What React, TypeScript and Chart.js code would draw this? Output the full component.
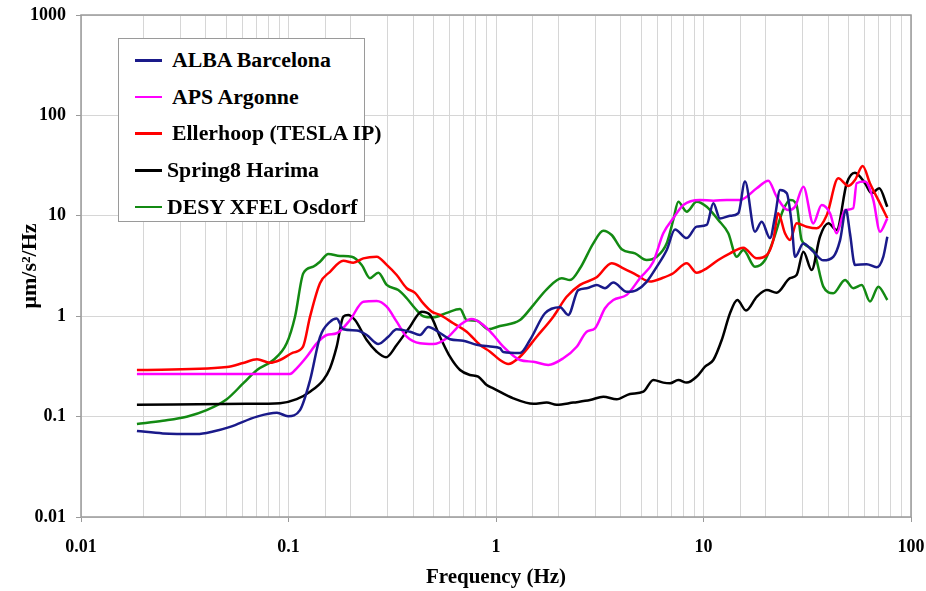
import React, { useEffect, useRef } from 'react';
import { Chart, registerables } from 'chart.js';

Chart.register(...registerables);

// ---------- data ----------
const seriesNames = ['ALBA Barcelona', 'APS Argonne', 'Ellerhoop (TESLA IP)', 'Spring8 Harima', 'DESY XFEL Osdorf'];
const seriesColors = ['#1a1a8a', '#ff00ff', '#ff0000', '#000000', '#138a13'];

const xTickLabels = ['0.01', '0.1', '1', '10', '100'];
const yTickLabels = ['0.01', '0.1', '1', '10', '100', '1000'];

const albaFreq = [0.0186, 0.0248, 0.0362, 0.0433, 0.0523, 0.0705, 0.088, 0.0995, 0.1136, 0.127, 0.1418, 0.1585, 0.1707, 0.1837, 0.2132, 0.2382, 0.271, 0.3027, 0.3322, 0.385, 0.43, 0.4717, 0.537, 0.6, 0.696, 0.807, 0.936, 1.045, 1.084, 1.305, 1.458, 1.722, 2.034, 2.23, 2.49, 2.735, 3.057, 3.352, 3.675, 4.265, 4.764, 5.32, 5.95, 6.65, 7.29, 8.3, 9.27, 10.36, 11.15, 12.0, 13.42, 14.72, 15.85, 17.7, 19.08, 20.92, 22.1, 23.4, 25.2, 26.6, 27.6, 30.3, 33.8, 37.8, 42.2, 45.5, 48.6, 50.8, 53.7, 61.2, 68.3, 73.5, 76.9];
const albaPsd = [0.072, 0.068, 0.067, 0.071, 0.079, 0.1, 0.109, 0.101, 0.116, 0.23, 0.62, 0.88, 0.95, 0.74, 0.72, 0.65, 0.53, 0.625, 0.74, 0.70, 0.65, 0.78, 0.68, 0.59, 0.57, 0.52, 0.5, 0.48, 0.44, 0.43, 0.58, 1.07, 1.23, 1.03, 1.82, 1.9, 2.05, 1.9, 2.16, 1.75, 1.82, 2.2, 3.1, 4.56, 7.3, 6.0, 7.8, 8.1, 13.3, 9.4, 10.0, 10.6, 21.9, 6.95, 8.7, 6.0, 9.8, 18.1, 16.8, 8.4, 3.9, 5.3, 4.4, 3.6, 3.9, 5.7, 11.4, 6.7, 3.24, 3.3, 3.07, 3.9, 6.2];

const apsFreq = [0.0186, 0.1017, 0.1095, 0.1224, 0.1368, 0.1528, 0.1707, 0.1979, 0.2294, 0.2661, 0.2974, 0.3322, 0.3713, 0.43, 0.4986, 0.5786, 0.671, 0.764, 0.869, 0.971, 1.084, 1.305, 1.513, 1.787, 2.11, 2.449, 2.735, 3.0, 3.352, 3.675, 4.265, 4.94, 5.73, 6.4, 7.15, 7.99, 9.62, 11.15, 12.94, 15.0, 18.05, 20.53, 22.5, 25.6, 27.6, 30.3, 33.8, 37.1, 40.7, 43.8, 48.1, 52.7, 54.7, 60.0, 65.8, 70.9, 76.9];
const apsPsd = [0.266, 0.266, 0.303, 0.395, 0.537, 0.65, 0.676, 0.916, 1.395, 1.417, 1.243, 0.882, 0.625, 0.537, 0.528, 0.603, 0.817, 0.938, 0.817, 0.65, 0.497, 0.366, 0.352, 0.327, 0.381, 0.497, 0.701, 0.758, 1.2, 1.45, 1.63, 2.39, 3.49, 6.69, 9.44, 12.8, 14.4, 14.1, 14.4, 14.4, 18.8, 22.4, 15.5, 11.4, 12.3, 19.5, 8.4, 12.8, 10.6, 6.7, 11.4, 11.9, 21.1, 21.9, 14.4, 6.95, 9.44];

const ellerFreq = [0.0186, 0.0505, 0.0604, 0.0705, 0.0815, 0.091, 0.1051, 0.1175, 0.127, 0.1418, 0.1585, 0.1837, 0.2053, 0.2294, 0.2661, 0.2974, 0.3322, 0.3713, 0.407, 0.4463, 0.49, 0.537, 0.6226, 0.7225, 0.8375, 0.936, 1.045, 1.146, 1.305, 1.571, 1.889, 2.19, 2.54, 3.057, 3.61, 4.11, 4.764, 5.52, 6.29, 7.15, 8.3, 9.27, 10.36, 11.78, 13.42, 15.55, 18.05, 20.2, 21.7, 22.9, 24.7, 26.1, 28.1, 31.4, 35.1, 39.3, 44.6, 49.9, 53.7, 58.5, 63.4, 70.9, 76.9];
const ellerPsd = [0.291, 0.312, 0.342, 0.372, 0.344, 0.366, 0.433, 0.497, 0.989, 2.13, 2.77, 3.57, 3.41, 3.77, 3.91, 3.24, 2.57, 1.9, 1.71, 1.34, 1.11, 1.03, 0.85, 0.70, 0.517, 0.443, 0.366, 0.334, 0.395, 0.625, 0.989, 1.56, 2.05, 2.44, 3.37, 3.0, 2.57, 2.21, 2.39, 2.68, 3.37, 2.71, 3.0, 3.63, 4.23, 4.81, 3.77, 4.07, 5.74, 10.6, 6.69, 5.74, 8.42, 7.79, 7.51, 10.2, 23.6, 19.8, 22.7, 31.3, 21.1, 13.3, 9.44];

const springFreq = [0.0186, 0.0631, 0.091, 0.1095, 0.127, 0.1471, 0.1585, 0.1707, 0.1837, 0.194, 0.2092, 0.2382, 0.2661, 0.2951, 0.3322, 0.385, 0.4385, 0.481, 0.537, 0.6, 0.671, 0.749, 0.821, 0.902, 0.971, 1.212, 1.513, 1.755, 1.961, 2.358, 2.838, 3.29, 3.817, 4.42, 5.13, 5.73, 6.4, 6.9, 7.56, 8.3, 9.27, 10.17, 11.15, 12.24, 13.42, 14.55, 16.03, 18.05, 20.2, 22.5, 26.1, 28.1, 30.3, 33.2, 36.4, 40.0, 43.8, 49.0, 53.7, 60.0, 64.6, 70.3, 76.9];
const springPsd = [0.131, 0.134, 0.136, 0.149, 0.177, 0.232, 0.303, 0.497, 0.989, 1.03, 0.916, 0.579, 0.443, 0.39, 0.517, 0.786, 1.11, 1.03, 0.625, 0.395, 0.291, 0.26, 0.25, 0.206, 0.191, 0.152, 0.134, 0.138, 0.131, 0.138, 0.146, 0.158, 0.149, 0.168, 0.177, 0.232, 0.218, 0.215, 0.232, 0.218, 0.25, 0.314, 0.366, 0.579, 1.07, 1.45, 1.14, 1.56, 1.82, 1.71, 2.39, 2.57, 4.39, 2.89, 6.19, 8.42, 7.22, 21.1, 26.9, 21.1, 16.8, 18.8, 12.3];

const desyFreq = [0.0186, 0.0248, 0.0323, 0.0403, 0.0504, 0.0606, 0.0705, 0.0845, 0.098, 0.1075, 0.1179, 0.1317, 0.1418, 0.1555, 0.177, 0.2017, 0.2253, 0.247, 0.271, 0.2974, 0.3382, 0.3713, 0.407, 0.4463, 0.4986, 0.5786, 0.671, 0.7225, 0.807, 0.918, 1.045, 1.305, 1.513, 1.755, 2.073, 2.273, 2.54, 2.944, 3.29, 3.61, 4.035, 4.677, 5.32, 5.95, 6.65, 7.15, 7.56, 8.3, 9.27, 10.36, 11.78, 13.17, 14.45, 15.55, 17.7, 19.8, 21.7, 24.2, 26.1, 28.1, 29.7, 33.8, 37.8, 42.2, 48.1, 52.7, 57.9, 63.4, 69.6, 76.9];
const desyPsd = [0.0844, 0.091, 0.0998, 0.116, 0.149, 0.215, 0.291, 0.366, 0.537, 0.989, 2.68, 3.11, 3.49, 4.17, 3.98, 3.91, 3.24, 2.39, 2.71, 2.05, 1.82, 1.51, 1.2, 1.0, 0.975, 1.08, 1.18, 0.916, 0.902, 0.741, 0.799, 0.916, 1.29, 1.85, 2.39, 2.29, 3.0, 5.32, 7.11, 6.44, 4.64, 4.23, 3.63, 3.91, 5.32, 9.08, 13.8, 11.0, 13.8, 12.3, 9.08, 6.69, 3.91, 4.56, 3.11, 3.63, 5.74, 11.4, 14.4, 12.8, 5.74, 4.56, 1.97, 1.69, 2.29, 1.9, 2.05, 1.4, 1.97, 1.45];

const seriesFreqs = [albaFreq, apsFreq, ellerFreq, springFreq, desyFreq];
const seriesPsds = [albaPsd, apsPsd, ellerPsd, springPsd, desyPsd];

// ---------- chart ----------
const FONT = "'Liberation Serif', 'Times New Roman', Times, serif";

const isDecade = (v: number) => {
  const l = Math.log10(v);
  return Math.abs(l - Math.round(l)) < 1e-6;
};

const framePlugin = {
  id: 'frame',
  beforeDatasetsDraw(chart: any) {
    const { ctx, chartArea } = chart;
    ctx.save();
    ctx.strokeStyle = '#9a9a9a';
    ctx.lineWidth = 1.5;
    ctx.strokeRect(chartArea.left, chartArea.top, chartArea.right - chartArea.left, chartArea.bottom - chartArea.top);
    ctx.restore();
  },
};

export default function App() {
  const canvasRef = useRef<HTMLCanvasElement>(null);

  useEffect(() => {
    const canvas = canvasRef.current;
    if (!canvas) return;
    const chart = new Chart(canvas, {
      type: 'line',
      data: {
        datasets: seriesNames.map((name, si) => ({
          label: name,
          data: seriesFreqs[si].map((f, i) => ({ x: f, y: seriesPsds[si][i] })),
          borderColor: seriesColors[si],
          backgroundColor: seriesColors[si],
          borderWidth: 2.5,
          pointRadius: 0,
          fill: false,
          cubicInterpolationMode: 'monotone' as const,
        })),
      },
      options: {
        responsive: false,
        animation: false,
        layout: { padding: { top: 15, right: 15, left: 0, bottom: 0 } },
        plugins: { legend: { display: false }, tooltip: { enabled: false } },
        scales: {
          x: {
            type: 'logarithmic',
            min: 0.01,
            max: 100,
            afterFit: (s: any) => {
              s.height = 74;
              s.paddingLeft = 0;
              s.paddingRight = 0;
            },
            border: { display: false },
            grid: {
              color: '#d6d6d6',
              lineWidth: 1,
              tickLength: 5,
              tickColor: (c: any) => (c.tick && isDecade(c.tick.value) ? '#9a9a9a' : 'rgba(0,0,0,0)'),
            },
            ticks: {
              autoSkip: false,
              maxRotation: 0,
              padding: 15,
              color: '#000',
              font: { family: FONT, size: 18, weight: 'bold' },
              callback: (v: any) => (isDecade(Number(v)) ? xTickLabels[Math.round(Math.log10(Number(v))) + 2] : ''),
            },
            title: {
              display: true,
              text: 'Frequency (Hz)',
              color: '#000',
              font: { family: FONT, size: 21, weight: 'bold' },
              padding: 1,
            },
          },
          y: {
            type: 'logarithmic',
            min: 0.01,
            max: 1000,
            afterFit: (s: any) => {
              s.width = 81;
              s.paddingTop = 0;
              s.paddingBottom = 0;
            },
            border: { display: false },
            grid: {
              color: (c: any) => (c.tick && isDecade(c.tick.value) ? '#d6d6d6' : 'rgba(0,0,0,0)'),
              lineWidth: 1,
              tickLength: 5,
              tickColor: (c: any) => (c.tick && isDecade(c.tick.value) ? '#9a9a9a' : 'rgba(0,0,0,0)'),
            },
            ticks: {
              autoSkip: false,
              padding: 10,
              color: '#000',
              font: { family: FONT, size: 18, weight: 'bold' },
              callback: (v: any) => (isDecade(Number(v)) ? yTickLabels[Math.round(Math.log10(Number(v))) + 2] : ''),
            },
            title: {
              display: true,
              text: 'μm/s²/Hz',
              color: '#000',
              font: { family: FONT, size: 22, weight: 'bold' },
              padding: 17,
            },
          },
        },
      } as any,
      plugins: [framePlugin],
    });
    return () => chart.destroy();
  }, []);

  return (
    <div style={{ position: 'fixed', left: 0, top: 0, width: 926, height: 591, background: '#fff' }}>
      <canvas ref={canvasRef} width={926} height={591} style={{ display: 'block', width: 926, height: 591 }} />
      <div
        style={{
          position: 'absolute',
          left: 118,
          top: 38,
          width: 247,
          height: 184,
          boxSizing: 'border-box',
          border: '1.5px solid #9a9a9a',
          background: '#fff',
          fontFamily: FONT,
          fontWeight: 'bold',
          fontSize: 20,
          color: '#000',
        }}
      >
        {seriesNames.map((name, i) => (
          <div
            key={name}
            style={{ position: 'absolute', left: 0, top: 21 + i * 36.7 - 12, height: 24, width: '100%' }}
          >
            <div
              style={{
                position: 'absolute',
                left: 16,
                top: 11,
                width: 27,
                height: 2.5,
                background: seriesColors[i],
              }}
            />
            <span
              style={{
                position: 'absolute',
                left: i < 3 ? 53 : 48,
                top: 0,
                lineHeight: '24px',
                whiteSpace: 'nowrap',
                transform: 'scaleX(1.09)',
                transformOrigin: 'left center',
              }}
            >
              {name}
            </span>
          </div>
        ))}
      </div>
    </div>
  );
}
